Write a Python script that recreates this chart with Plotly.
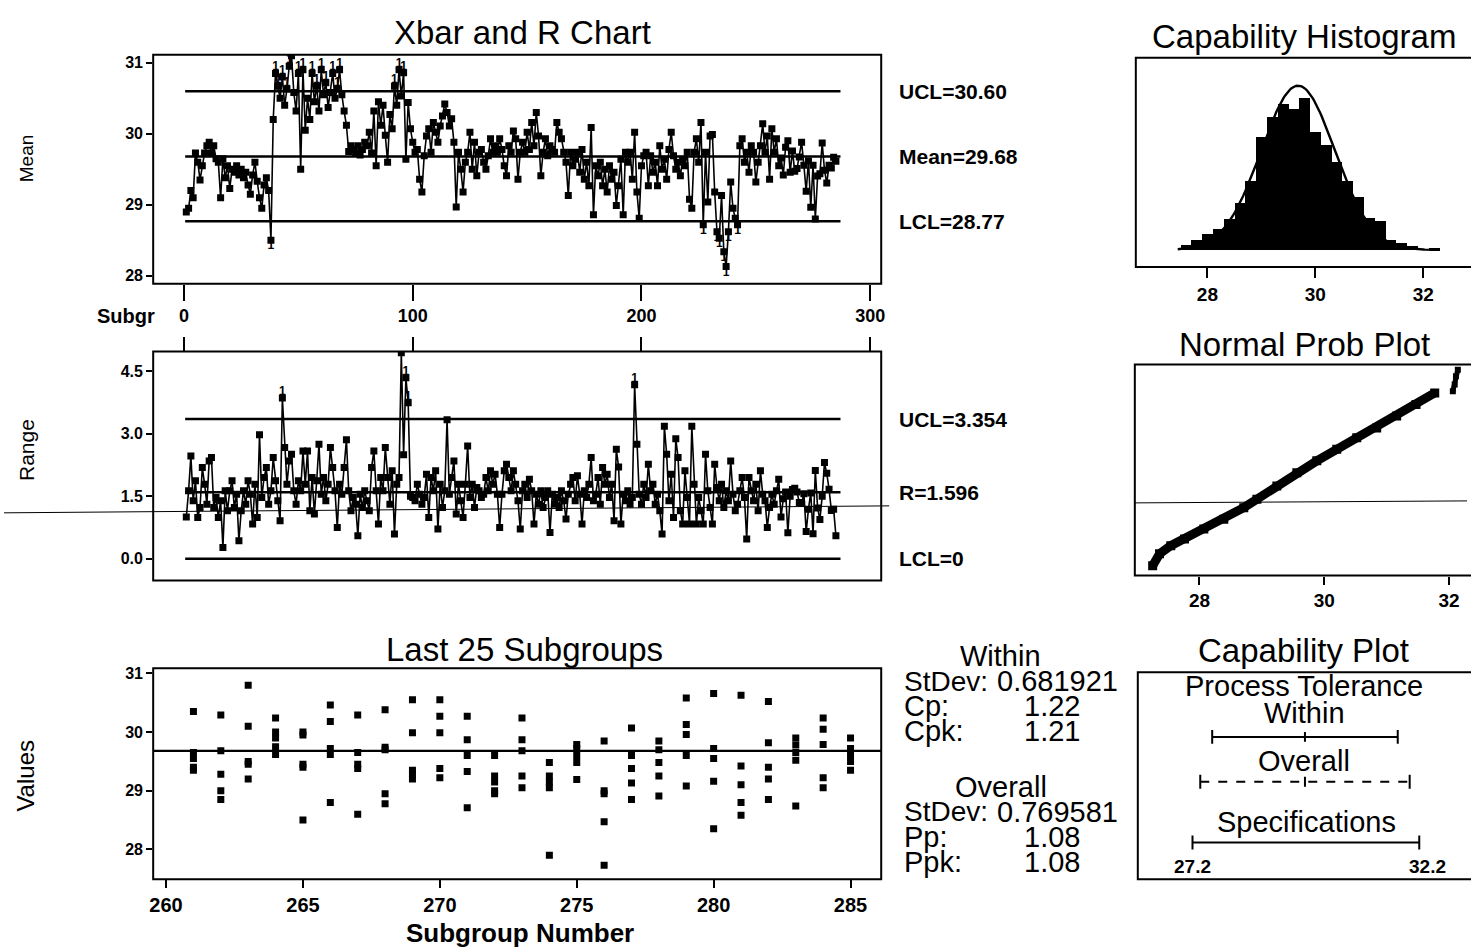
import plotly.graph_objects as go
import math

W, H = 1471, 949
FONT = "Liberation Sans, Arial, sans-serif"

# ---------------- data ----------------
subgroup_size = 5
xbar_first260 = [
    28.90, 28.95, 29.20, 29.10, 29.73, 29.60, 29.35, 29.55, 29.73, 29.83,
    29.88, 29.73, 29.83, 29.65, 29.60, 29.10, 29.65, 29.38, 29.55, 29.23,
    29.50, 29.46, 29.55, 29.42, 29.50, 29.38, 29.46, 29.28, 29.15, 29.42,
    29.60, 29.33, 29.10, 28.95, 29.28, 29.38, 29.20, 28.50, 30.20, 30.85,
    30.67, 30.50, 30.80, 30.40, 30.63, 30.95, 31.10, 30.58, 30.32, 30.85,
    29.50, 30.90, 30.05, 30.50, 30.20, 30.85, 30.45, 30.67, 30.32, 30.90,
    30.55, 30.72, 30.37, 30.58, 30.85, 30.50, 30.63, 30.90, 30.55, 30.32,
    30.12, 29.75, 29.83, 29.78, 29.73, 29.83, 29.70, 29.78, 29.88, 29.83,
    30.02, 29.73, 30.32, 29.55, 30.45, 30.12, 30.40, 29.98, 29.60, 30.27,
    30.07, 30.67, 30.40, 30.90, 30.53, 30.86, 29.64, 30.44, 30.07, 29.88,
    29.74, 29.78, 29.36, 29.18, 29.69, 29.97, 30.07, 29.74, 30.16, 30.02,
    29.88, 30.11, 30.25, 30.42, 30.30, 30.11, 30.21, 29.88, 28.97, 29.74,
    29.50, 29.18, 29.60, 29.74, 30.02, 29.50, 29.88, 29.41, 29.74, 29.78,
    29.60, 29.50, 29.69, 29.93, 29.74, 29.83, 29.74, 29.93, 29.78, 29.55,
    29.41, 29.83, 29.74, 30.04, 29.93, 29.36, 29.74, 29.88, 29.74, 30.02,
    29.78, 30.16, 29.83, 30.30, 29.97, 29.41, 29.74, 29.93, 29.69, 29.83,
    29.78, 29.74, 30.16, 30.02, 29.93, 29.74, 29.60, 29.13, 29.74, 29.55,
    29.64, 29.74, 29.46, 29.78, 29.36, 29.60, 29.27, 30.09, 28.86, 29.55,
    29.41, 29.60, 29.27, 29.50, 29.18, 29.55, 29.36, 29.46, 28.99, 29.27,
    29.64, 28.86, 29.74, 29.60, 29.74, 29.36, 30.02, 29.18, 28.81, 29.55,
    29.69, 29.74, 29.27, 29.69, 29.46, 29.60, 29.27, 29.83, 29.50, 29.64,
    29.36, 29.78, 30.02, 29.69, 29.50, 29.60, 29.41, 29.64, 29.55, 29.74,
    29.08, 28.95, 29.74, 29.93, 29.60, 30.16, 28.72, 29.74, 29.04, 29.97,
    29.99, 29.18, 28.62, 28.53, 29.13, 28.34, 28.13, 28.62, 29.32, 28.95,
    28.81, 28.72, 29.83, 29.93, 29.60, 29.74, 29.46, 29.83, 29.74, 29.32,
    29.60, 29.83, 30.14, 29.74, 29.97, 29.36, 30.07, 29.74, 29.93, 29.55,
]
range_first260 = [
    1.00, 1.63, 2.47, 1.39, 1.87, 0.99, 1.23, 2.19, 1.79, 1.31,
    2.35, 2.43, 1.23, 1.47, 0.99, 1.39, 0.27, 1.63, 1.15, 1.63,
    1.87, 1.23, 1.55, 0.43, 1.15, 1.63, 1.31, 1.87, 1.55, 0.83,
    1.79, 0.99, 2.98, 1.47, 1.95, 2.19, 1.31, 1.63, 2.43, 1.87,
    1.39, 0.91, 3.86, 2.67, 1.79, 2.35, 2.51, 1.63, 1.31, 1.87,
    1.63, 2.59, 1.79, 2.59, 1.15, 1.95, 1.07, 1.87, 2.75, 1.55,
    1.95, 1.39, 1.79, 2.67, 2.19, 1.63, 0.75, 1.79, 1.55, 2.19,
    2.86, 1.63, 1.15, 1.47, 1.31, 0.55, 1.55, 1.23, 1.63, 1.39,
    1.15, 2.19, 2.59, 1.63, 0.83, 1.95, 1.63, 2.67, 1.95, 1.31,
    2.11, 0.59, 1.79, 1.95, 4.95, 2.50, 4.35, 3.75, 1.50, 1.47,
    1.39, 1.79, 1.55, 1.31, 1.47, 2.03, 0.99, 1.95, 1.63, 2.11,
    0.71, 1.79, 1.23, 1.63, 3.34, 1.55, 1.95, 2.35, 1.07, 1.79,
    1.39, 0.99, 1.79, 2.71, 1.47, 1.79, 1.23, 1.71, 1.63, 1.47,
    1.55, 1.95, 1.63, 2.11, 1.79, 2.03, 1.55, 0.75, 1.55, 2.11,
    2.27, 1.95, 1.63, 2.11, 1.79, 1.39, 0.71, 1.63, 1.79, 1.47,
    1.91, 1.63, 0.83, 1.55, 1.31, 1.63, 1.23, 1.47, 1.63, 0.63,
    1.55, 1.31, 1.47, 1.23, 1.63, 1.39, 0.95, 1.55, 1.79, 1.95,
    1.39, 1.99, 1.55, 0.83, 1.63, 1.47, 1.79, 2.43, 1.39, 1.55,
    1.95, 1.31, 2.19, 1.79, 2.03, 1.47, 1.79, 0.91, 2.63, 2.20,
    0.83, 1.55, 1.39, 1.63, 1.31, 1.47, 4.18, 2.75, 1.55, 1.31,
    1.79, 1.47, 2.27, 1.63, 1.79, 1.31, 1.55, 1.15, 0.59, 3.18,
    2.51, 1.39, 2.03, 0.99, 2.88, 2.43, 1.15, 0.83, 2.11, 1.47,
    0.83, 3.18, 1.79, 0.83, 1.47, 1.15, 0.83, 2.51, 1.63, 1.23,
    0.83, 2.27, 1.71, 1.39, 1.79, 1.23, 1.63, 1.39, 2.35, 1.55,
    1.15, 1.31, 1.63, 1.95, 1.47, 0.47, 1.95, 1.63, 1.39, 1.79,
    1.15, 2.11, 1.55, 1.39, 0.75, 1.23, 1.55, 1.31, 1.63, 1.91,
]
last25_start = 261
last25_values = [
    [30.35, 29.65, 29.55, 29.40, 29.35],
    [30.29, 29.68, 29.28, 29.00, 28.85],
    [30.80, 30.10, 29.50, 29.45, 29.20],
    [30.24, 30.00, 29.90, 29.75, 29.62],
    [30.00, 29.95, 29.45, 29.40, 28.50],
    [30.46, 30.18, 29.72, 29.62, 28.80],
    [30.29, 29.65, 29.45, 29.38, 28.60],
    [30.38, 29.74, 29.70, 28.95, 28.78],
    [30.55, 29.99, 29.35, 29.28, 29.20],
    [30.55, 30.27, 29.99, 29.38, 29.22],
    [30.27, 29.87, 29.60, 29.33, 28.71],
    [29.60, 29.25, 29.15, 29.00, 28.95],
    [30.24, 29.87, 29.68, 29.25, 29.05],
    [29.48, 29.25, 29.15, 29.05, 27.90],
    [29.79, 29.72, 29.60, 29.48, 29.19],
    [29.85, 29.00, 28.95, 28.47, 27.73],
    [30.07, 29.60, 29.38, 29.13, 28.85],
    [29.85, 29.70, 29.48, 29.25, 28.91],
    [30.58, 30.13, 29.96, 29.60, 29.08],
    [30.66, 29.72, 29.55, 29.16, 28.35],
    [30.63, 29.42, 29.10, 28.80, 28.58],
    [30.52, 29.82, 29.40, 29.20, 28.85],
    [29.90, 29.78, 29.65, 29.52, 28.74],
    [30.24, 30.05, 29.79, 29.22, 29.05],
    [29.90, 29.72, 29.60, 29.50, 29.35],
]

center_mean = 29.68
ucl_mean = 30.60
lcl_mean = 28.77
center_range = 1.596
ucl_range = 3.354
lcl_range = 0.0
within_stdev = 0.681921
overall_stdev = 0.769581
cp_txt, cpk_txt, pp_txt, ppk_txt = "1.22", "1.21", "1.08", "1.08"
lsl, usl = 27.2, 32.2

hist_midpoints = [27.6, 27.8, 28.0, 28.2, 28.4, 28.6, 28.8, 29.0, 29.2, 29.4, 29.6, 29.8,
                  30.0, 30.2, 30.4, 30.6, 30.8, 31.0, 31.2, 31.4, 31.6, 31.8, 32.0, 32.2]
hist_counts = [5, 10, 16, 22, 32, 48, 70, 115, 135, 148, 143, 154,
               120, 107, 90, 70, 54, 33, 30, 10, 7, 4, 0, 2]
hist_binwidth = 0.2
curve_span = (27.45, 32.3)

prob_values = [27.25, 27.36, 27.54, 27.76, 28.07, 28.39, 28.71, 28.92, 29.24, 29.56, 29.88,
               30.20, 30.52, 30.84, 31.16, 31.47, 31.77, 32.06, 32.09, 32.11, 32.14]
prob_scores = [-3.45, -3.03, -2.74, -2.50, -2.15, -1.80, -1.39, -1.09, -0.62, -0.15, 0.27,
               0.68, 1.09, 1.44, 1.86, 2.27, 2.68, 2.74, 2.98, 3.27, 3.50]
prob_main_count = 17

# ---------------- derived ----------------
xbar_all = xbar_first260 + [sum(v) / len(v) for v in last25_values]
range_all = range_first260 + [max(v) - min(v) for v in last25_values]
n_sub = len(xbar_all)
subgroups = list(range(1, n_sub + 1))


def xd(px):
    return px / W


def yd(py):
    return 1 - py / H


fig = go.Figure()
BLACK = "black"
MK = 7

# Xbar chart
fig.add_trace(go.Scatter(x=subgroups, y=xbar_all, mode="lines+markers",
                         line=dict(color=BLACK, width=1.6),
                         marker=dict(symbol="square", size=MK, color=BLACK),
                         xaxis="x", yaxis="y"))
for v in (ucl_mean, center_mean, lcl_mean):
    fig.add_trace(go.Scatter(x=[0.5, n_sub + 2], y=[v, v], mode="lines",
                             line=dict(color=BLACK, width=2.5), xaxis="x", yaxis="y"))
hi = [(s, v) for s, v in zip(subgroups, xbar_all) if v > ucl_mean]
lo = [(s, v) for s, v in zip(subgroups, xbar_all) if v < lcl_mean]
fig.add_trace(go.Scatter(x=[a for a, b in hi], y=[b for a, b in hi], mode="text", text=["1"] * len(hi),
                         textposition="top center",
                         textfont=dict(family=FONT, size=12, color=BLACK, weight="bold"),
                         xaxis="x", yaxis="y"))
fig.add_trace(go.Scatter(x=[a for a, b in lo], y=[b for a, b in lo], mode="text", text=["1"] * len(lo),
                         textposition="bottom center",
                         textfont=dict(family=FONT, size=12, color=BLACK, weight="bold"),
                         xaxis="x", yaxis="y"))

# Range chart
fig.add_trace(go.Scatter(x=subgroups, y=range_all, mode="lines+markers",
                         line=dict(color=BLACK, width=1.6),
                         marker=dict(symbol="square", size=MK, color=BLACK),
                         xaxis="x2", yaxis="y2"))
for v in (ucl_range, center_range, lcl_range):
    fig.add_trace(go.Scatter(x=[0.5, n_sub + 2], y=[v, v], mode="lines",
                             line=dict(color=BLACK, width=2.5), xaxis="x2", yaxis="y2"))
rhi = [(s, v) for s, v in zip(subgroups, range_all) if v > ucl_range]
fig.add_trace(go.Scatter(x=[a for a, b in rhi], y=[b for a, b in rhi], mode="text", text=["1"] * len(rhi),
                         textposition="top center",
                         textfont=dict(family=FONT, size=12, color=BLACK, weight="bold"),
                         xaxis="x2", yaxis="y2"))

# Last 25 subgroups
lx, ly = [], []
for k, vals in enumerate(last25_values):
    for v in vals:
        lx.append(last25_start + k)
        ly.append(v)
fig.add_trace(go.Scatter(x=lx, y=ly, mode="markers",
                         marker=dict(symbol="square", size=MK, color=BLACK),
                         xaxis="x3", yaxis="y3"))
fig.add_trace(go.Scatter(x=[259.5, 286.2], y=[center_mean, center_mean], mode="lines",
                         line=dict(color=BLACK, width=2.4), xaxis="x3", yaxis="y3"))

# Histogram
fig.add_trace(go.Bar(x=hist_midpoints, y=hist_counts, width=hist_binwidth,
                     marker=dict(color=BLACK, line=dict(width=0)), xaxis="x4", yaxis="y4"))
n_obs = sum(hist_counts)
npts = 200
cx = [curve_span[0] + (curve_span[1] - curve_span[0]) * k / npts for k in range(npts + 1)]
cy = [n_obs * hist_binwidth / (within_stdev * math.sqrt(2 * math.pi)) *
      math.exp(-0.5 * ((x - center_mean) / within_stdev) ** 2) for x in cx]
fig.add_trace(go.Scatter(x=cx, y=cy, mode="lines", line=dict(color=BLACK, width=2.4),
                         xaxis="x4", yaxis="y4"))

# Normal probability plot
fig.add_trace(go.Scatter(x=prob_values[:prob_main_count], y=prob_scores[:prob_main_count],
                         mode="lines+markers", line=dict(color=BLACK, width=9),
                         marker=dict(symbol="square", size=9, color=BLACK),
                         xaxis="x5", yaxis="y5"))
fig.add_trace(go.Scatter(x=prob_values[prob_main_count:], y=prob_scores[prob_main_count:],
                         mode="lines+markers", line=dict(color=BLACK, width=5),
                         marker=dict(symbol="square", size=6, color=BLACK),
                         xaxis="x5", yaxis="y5"))

# Capability plot
row_within, row_overall, row_spec = 143, 98, 37
w_lo, w_hi = center_mean - 3 * within_stdev, center_mean + 3 * within_stdev
o_lo, o_hi = center_mean - 3 * overall_stdev, center_mean + 3 * overall_stdev


def seg_with_ticks(lo_, hi_, row, tick, center=None, ctick=5):
    xs = [lo_, hi_, None, lo_, lo_, None, hi_, hi_]
    ys = [row, row, None, row - tick, row + tick, None, row - tick, row + tick]
    if center is not None:
        xs += [None, center, center]
        ys += [None, row - ctick, row + ctick]
    return xs, ys


xs, ys = seg_with_ticks(w_lo, w_hi, row_within, 7, center_mean)
fig.add_trace(go.Scatter(x=xs, y=ys, mode="lines", line=dict(color=BLACK, width=2),
                         xaxis="x6", yaxis="y6"))
fig.add_trace(go.Scatter(x=[o_lo, o_hi], y=[row_overall, row_overall], mode="lines",
                         line=dict(color=BLACK, width=2, dash="dash"), xaxis="x6", yaxis="y6"))
xs, ys = seg_with_ticks(o_lo, o_hi, row_overall, 7, center_mean)
fig.add_trace(go.Scatter(x=xs[3:], y=ys[3:], mode="lines", line=dict(color=BLACK, width=2),
                         xaxis="x6", yaxis="y6"))
xs, ys = seg_with_ticks(lsl, usl, row_spec, 7)
fig.add_trace(go.Scatter(x=xs, y=ys, mode="lines", line=dict(color=BLACK, width=2),
                         xaxis="x6", yaxis="y6"))

# ---------------- layout ----------------
TICK = 18
tickfont = dict(family=FONT, size=TICK, color=BLACK, weight="bold")
common = dict(showgrid=False, zeroline=False, showline=False, ticks="outside",
              tickcolor=BLACK, tickwidth=2, tickfont=tickfont)

left_dom = [xd(150), xd(882)]
layout = dict(
    width=W, height=H, margin=dict(l=0, r=0, t=0, b=0),
    paper_bgcolor="white", plot_bgcolor="white", showlegend=False,
    hovermode=False, bargap=0, font=dict(family=FONT, color=BLACK),
    xaxis=dict(common, domain=left_dom, range=[-13.48, 304.8], tickvals=[0, 100, 200, 300],
               ticklen=16, anchor="y"),
    yaxis=dict(common, domain=[yd(282), yd(52)], range=[27.888, 31.112],
               tickvals=[28, 29, 30, 31], ticklen=6, anchor="x",
               tickfont=dict(tickfont, size=16)),
    xaxis2=dict(common, domain=left_dom, range=[-13.48, 304.8], tickvals=[0, 100, 200, 300],
                ticklen=14, side="top", showticklabels=False, anchor="y2"),
    yaxis2=dict(common, domain=[yd(580), yd(350)], range=[-0.527, 4.979],
                tickvals=[0, 1.5, 3.0, 4.5], ticktext=["0.0", "1.5", "3.0", "4.5"],
                ticklen=6, anchor="x2", tickfont=dict(tickfont, size=16)),
    xaxis3=dict(common, domain=left_dom, range=[259.53, 286.12],
                tickvals=[260, 265, 270, 275, 280, 285], ticklen=8, anchor="y3",
                tickfont=dict(tickfont, size=20)),
    yaxis3=dict(common, domain=[yd(880), yd(668)], range=[27.49, 31.09],
                tickvals=[28, 29, 30, 31], ticklen=6, anchor="x3",
                tickfont=dict(tickfont, size=16)),
    xaxis4=dict(common, domain=[xd(1138), 1], range=[26.673, 32.811], tickvals=[28, 30, 32],
                ticklen=10, anchor="y4", tickfont=dict(tickfont, size=19)),
    yaxis4=dict(common, domain=[yd(265), yd(55)], range=[-17.1, 195.0], ticks="",
                showticklabels=False, anchor="x4"),
    xaxis5=dict(common, domain=[xd(1137), 1], range=[26.964, 32.287], tickvals=[28, 30, 32],
                ticklen=8, anchor="y5", tickfont=dict(tickfont, size=19)),
    yaxis5=dict(common, domain=[yd(575), yd(363)], range=[-3.80, 3.69], ticks="",
                showticklabels=False, anchor="x5"),
    xaxis6=dict(domain=[xd(1140), 1], range=[25.994, 33.253], visible=False, anchor="y6"),
    yaxis6=dict(domain=[yd(880), yd(672)], range=[0, 208], visible=False, anchor="x6"),
)
fig.update_layout(**layout)

# frames
shapes = []
for ax, right in (("", 1), ("2", 1), ("3", 1), ("4", 1.2), ("5", 1.2), ("6", 1.2)):
    shapes.append(dict(type="rect", xref=f"x{ax} domain", yref=f"y{ax} domain",
                       x0=0, x1=right, y0=0, y1=1, line=dict(color=BLACK, width=2)))
# scan line crossing the page
shapes.append(dict(type="line", xref="paper", yref="paper", x0=0, y0=yd(512), x1=xd(890), y1=yd(505),
                   line=dict(color=BLACK, width=1)))
shapes.append(dict(type="line", xref="paper", yref="paper", x0=xd(1137), y0=yd(502), x1=1, y1=yd(500),
                   line=dict(color=BLACK, width=1)))
fig.update_layout(shapes=shapes)

ann = []


def text(s, px, py, size, bold=False, anchor="center", angle=0):
    ann.append(dict(text=s, x=xd(px), y=yd(py), xref="paper", yref="paper", showarrow=False,
                    xanchor=anchor, yanchor="middle", textangle=angle,
                    font=dict(family=FONT, size=size, color=BLACK, weight="bold" if bold else "normal")))


TITLE = 33
text("Xbar and R Chart", 521, 30, TITLE)
text("Capability Histogram", 1307, 34, TITLE)
text("Normal Prob Plot", 1308, 343, TITLE)
text("Last 25 Subgroups", 523, 649, TITLE)
text("Capability Plot", 1307, 650, TITLE)

text("Mean", 22, 156, 19, angle=-90)
text("Range", 22, 449, 21, angle=-90)
text("Values", 22, 776, 24, angle=-90)
text("Subgr", 123, 314, 20, bold=True)
text("Subgroup Number", 519, 934, 26, bold=True)

for s, v, yr in ((f"UCL={ucl_mean:.2f}", ucl_mean, "y"), (f"Mean={center_mean:.2f}", center_mean, "y"),
                 (f"LCL={lcl_mean:.2f}", lcl_mean, "y"), (f"UCL={ucl_range:.3f}", ucl_range, "y2"),
                 (f"R={center_range:.3f}", center_range, "y2"), ("LCL=0", lcl_range, "y2")):
    ann.append(dict(text=s, x=xd(898), y=v, xref="paper", yref=yr, showarrow=False,
                    xanchor="left", yanchor="middle",
                    font=dict(family=FONT, size=21, color=BLACK, weight="bold")))

ST = 29
text("Within", 1002, 656, ST)
text("StDev:", 903, 681, ST - 1, anchor="left")
text(f"{within_stdev:.6f}", 996, 681, ST, anchor="left")
text("Cp:", 903, 706, ST, anchor="left")
text(cp_txt, 1024, 706, ST, anchor="left")
text("Cpk:", 903, 731, ST, anchor="left")
text(cpk_txt, 1024, 731, ST, anchor="left")
text("Overall", 1002, 787, ST)
text("StDev:", 903, 812, ST - 1, anchor="left")
text(f"{overall_stdev:.6f}", 996, 812, ST, anchor="left")
text("Pp:", 903, 838, ST, anchor="left")
text(pp_txt, 1024, 838, ST, anchor="left")
text("Ppk:", 903, 863, ST, anchor="left")
text(ppk_txt, 1024, 863, ST, anchor="left")

CT = 29
text("Process Tolerance", 1307, 686, CT)
text("Within", 1308, 713, CT)
text("Overall", 1307, 761, CT)
text("Specifications", 1310, 822, CT)
ann.append(dict(text=f"{lsl}", x=lsl, y=row_spec - 24, xref="x6", yref="y6", showarrow=False,
                xanchor="center", yanchor="middle", font=dict(family=FONT, size=19, color=BLACK, weight="bold")))
ann.append(dict(text=f"{usl}", x=usl, y=row_spec - 24, xref="x6", yref="y6", showarrow=False,
                xanchor="center", yanchor="middle", xshift=8,
                font=dict(family=FONT, size=19, color=BLACK, weight="bold")))

fig.update_layout(annotations=ann)
fig.write_html("out.html", config={"displayModeBar": False},
               post_script="document.body.style.margin='0px';document.body.style.overflow='hidden';")
